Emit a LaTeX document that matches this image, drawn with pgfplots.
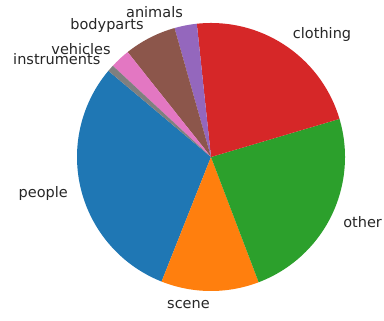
\documentclass[border=0pt]{standalone}
\usepackage{fontspec}
\setmainfont{DejaVu Sans}
\usepackage{pgfplots}
\pgfplotsset{compat=1.18}
\definecolor{c0}{HTML}{1F77B4}
\definecolor{c1}{HTML}{FF7F0E}
\definecolor{c2}{HTML}{2CA02C}
\definecolor{c3}{HTML}{D62728}
\definecolor{c4}{HTML}{9467BD}
\definecolor{c5}{HTML}{8C564B}
\definecolor{c6}{HTML}{E377C2}
\definecolor{c7}{HTML}{7F7F7F}
\gdef\cum{140}
% #1 share in percent, #2 colour, #3 label
\newcommand\slice[3]{%
  \pgfmathsetmacro\sa{\cum}%
  \pgfmathsetmacro\sb{\cum+3.6*#1}%
  \pgfmathsetmacro\sm{(\sa+\sb)/2}%
  \pgfmathsetmacro\lx{1.1*cos(\sm)}%
  \pgfmathsetmacro\ly{1.1*sin(\sm)}%
  \pgfmathparse{cos(\sm)>0?1:0}%
  \ifdim\pgfmathresult pt>0.5pt\def\anc{west}\else\def\anc{east}\fi
  \edef\temp{\noexpand\addplot[fill=#2,draw=none,domain=\sa:\sb,samples=90]
     ({cos(x)},{sin(x)}) -- (axis cs:0,0) -- cycle;
     \noexpand\node[anchor=\anc,inner sep=0pt,text=black!85,font=\noexpand\fontsize{14.5}{16}\noexpand\selectfont] at (axis cs:\lx,\ly) {#3};}%
  \temp
  \xdef\cum{\sb}%
}
\begin{document}
\begin{tikzpicture}
\begin{axis}[
  scale only axis, width=384pt, height=320pt,
  xmin=-1.5746, xmax=1.2910, ymin=-1.2164, ymax=1.1716,
  hide axis, clip=false]
\slice{30.1}{c0}{people}
\slice{11.8}{c1}{scene}
\slice{23.8}{c2}{other}
\slice{22.1}{c3}{clothing}
\slice{2.7}{c4}{animals}
\slice{6.3}{c5}{bodyparts}
\slice{2.4}{c6}{vehicles}
\slice{0.8}{c7}{instruments}
\end{axis}
\pgfresetboundingbox
\path[use as bounding box] (current axis.south west) rectangle (current axis.north east);
\end{tikzpicture}
\end{document}
